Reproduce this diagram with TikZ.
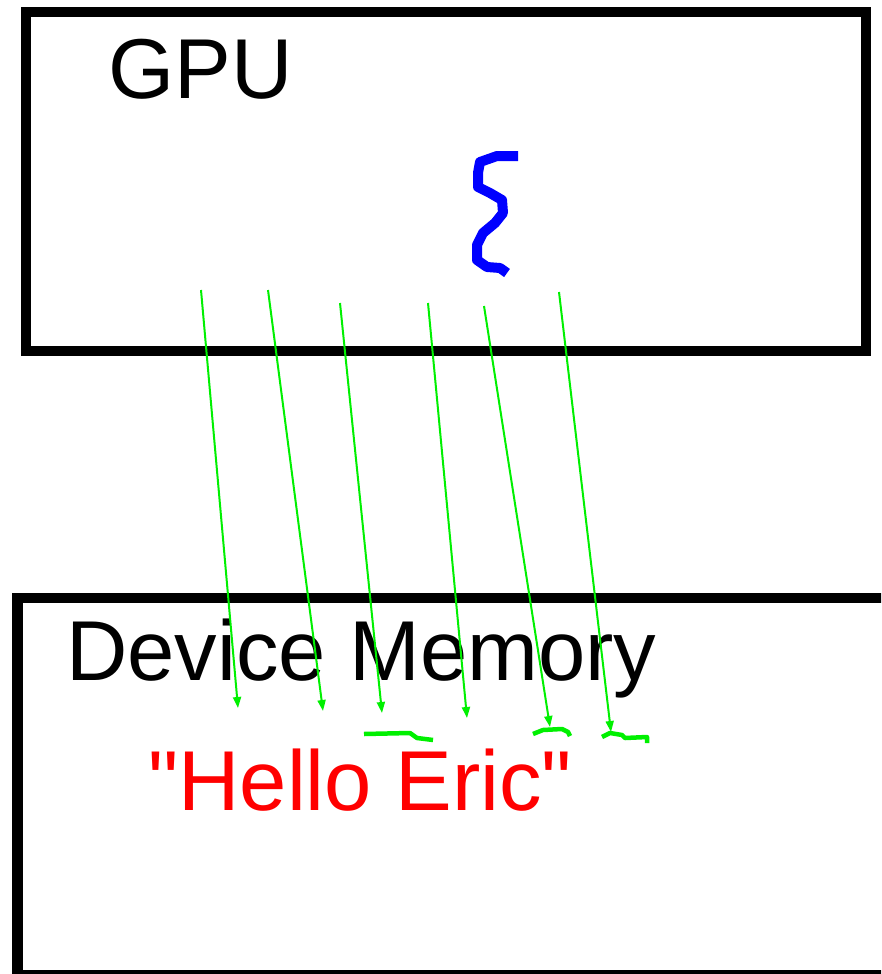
\documentclass[tikz,border=0pt]{standalone}
\usepackage{fontspec}
\setmainfont{Liberation Sans}
\newfontfamily\plainsans{Liberation Sans}
\usetikzlibrary{arrows.meta}
\definecolor{pgreen}{RGB}{0,240,0}
\definecolor{pblue}{RGB}{0,0,255}
\definecolor{pred}{RGB}{255,0,0}
\begin{document}
\begin{tikzpicture}[x=1pt,y=-1pt,
  boxline/.style={draw=black,line width=10.5pt},
  txt/.style={inner sep=0pt,anchor=base west,font=\plainsans\fontsize{85}{90}\selectfont},
  ptr/.style={draw=pgreen,line width=2pt,-{Triangle[length=11pt,width=8pt]}},
  gmark/.style={draw=pgreen,line width=4.5pt,line join=round},
  squig/.style={draw=pblue,line width=10pt,line join=round}]
\useasboundingbox (0,0) rectangle (881,974);
\clip (0,0) rectangle (881,974);
\fill[white] (0,0) rectangle (881,974);
% boxes
\draw[boxline] (26,12) rectangle (866,351);
\draw[boxline] (17.5,598) rectangle (900,975);
% texts
\node[txt] (gpu) at (108,98) {GPU};
\node[txt] (dev) at (66,680) {Device Memory};
\node[txt,text=pred] (str) at (148,810) {"Hello Eric"};
% squiggle
\draw[squig] (518,156) -- (497,156) -- (480,162) -- (478,173) -- (478,187)
  -- (490,193) -- (502,200) -- (503,213) -- (495,223) -- (483,233)
  -- (477,245) -- (477,260) -- (487,267) -- (500,268) -- (507,273);
% arrow coordinates
\coordinate (s1) at (201,290); \coordinate (e1) at (238,708);
\coordinate (s2) at (268,290); \coordinate (e2) at (323,711);
\coordinate (s3) at (340,303); \coordinate (e3) at (382,713);
\coordinate (s4) at (428,303); \coordinate (e4) at (467,718);
\coordinate (s5) at (484,306); \coordinate (e5) at (550,727);
\coordinate (s6) at (559,292); \coordinate (e6) at (611,732);
\foreach \i in {1,...,6} \draw[ptr] (s\i) -- (e\i);
% green marks
\draw[gmark] (364,734) -- (410,733) -- (417,738) -- (433,740);
\draw[gmark] (533,734) -- (543,730) -- (562,729) -- (568,732) -- (570,736);
\draw[gmark] (602,737) -- (610,733) -- (622,735) -- (625,738) -- (647,737) -- (647,743);
\end{tikzpicture}
\end{document}
